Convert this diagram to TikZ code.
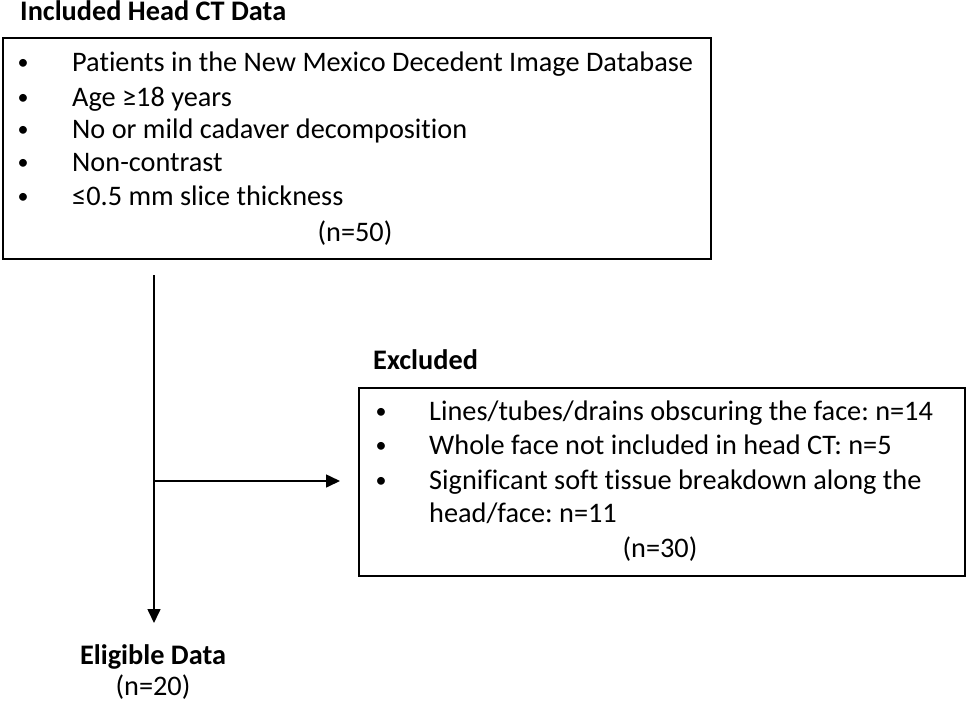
\documentclass[tikz,border=0pt]{standalone}
\usepackage{fontspec}
\setmainfont{Carlito}[Ligatures=NoCommon]
\usetikzlibrary{arrows.meta}
\tikzset{
  box/.style={draw=black, line width=1.6pt, rectangle, inner sep=0pt, anchor=north west},
  body/.style={font=\fontsize{28.3}{32}\selectfont, inner sep=0pt, anchor=base west},
  ctr/.style={font=\fontsize{28.3}{32}\selectfont, inner sep=0pt, anchor=base},
  ttl/.style={font=\fontsize{28.3}{32}\selectfont\bfseries, inner sep=0pt, anchor=base west},
  bul/.style={font=\fontsize{22}{26}\selectfont, inner sep=0pt, anchor=base},
  conn/.style={line width=1.6pt, -{Triangle[length=14pt,width=13pt]}},
}
\begin{document}
\frenchspacing
\begin{tikzpicture}[x=1pt,y=-1pt]
\useasboundingbox (0,0) rectangle (966,704);
% titles
\node[ttl] (t1) at (20,20) {Included Head CT Data};
% box 1
\node[box, minimum width=708pt, minimum height=221pt] (b1) at (2,37) {};
\foreach \yy/\tt [count=\i] in {71/{Patients in the New Mexico Decedent Image Database},106/{Age \char"2265 18 years},138/{No or mild cadaver decomposition},171/{Non-contrast},205/{\char"2264 0.5 mm slice thickness}}{
  \node[bul] (b1d\i) at (23,\yy-2) {\textbullet};
  \node[body] (b1t\i) at (72,\yy) {\tt};
}
\node[ctr] (n50) at (355,241) {(n=50)};
% excluded
\node[ttl] (t2) at (373,369) {Excluded};
\node[box, minimum width=606pt, minimum height=188pt] (b2) at (358,387) {};
\foreach \yy/\tt [count=\i] in {420/{Lines/tubes/drains obscuring the face: n=14},454/{Whole face not included in head CT: n=5},489/{Significant soft tissue breakdown along the}}{
  \node[bul] (b2d\i) at (381,\yy-2) {\textbullet};
  \node[body] (b2t\i) at (429,\yy) {\tt};
}
\node[body] (b2t4) at (429,522) {head/face: n=11};
\node[ctr] (n30) at (660,557) {(n=30)};
% eligible
\node[font=\fontsize{28.3}{32}\selectfont\bfseries, inner sep=0pt, anchor=base] (elig) at (153,664) {Eligible Data};
\node[ctr] (n20) at (153,695) {(n=20)};
% connectors
\coordinate (s) at (154,275);
\coordinate (j) at (154,481);
\draw[conn] (s) -- (154,623) coordinate (etip);
\draw[conn, shorten >=18pt] (j) -- (j -| b2.west);
\end{tikzpicture}
\end{document}
